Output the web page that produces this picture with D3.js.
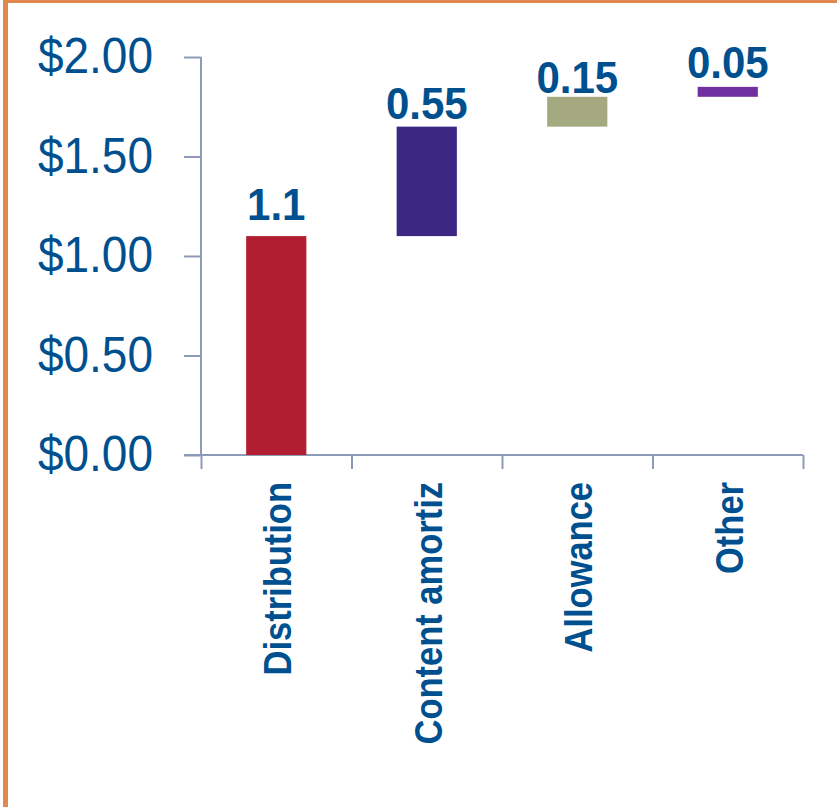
<!DOCTYPE html>
<html>
<head>
<meta charset="utf-8">
<script src="https://cdn.jsdelivr.net/npm/d3@7"></script>
<style>
  body { margin: 0; background: #fff; }
  svg { display: block; font-family: "Liberation Sans", Arial, sans-serif; }
</style>
</head>
<body>
<div id="chart"></div>
<script>
// chart data
var categories = ['Distribution', 'Content amortiz', 'Allowance', 'Other'];
var values = [1.1, 0.55, 0.15, 0.05];
var valueLabels = ['1.1', '0.55', '0.15', '0.05'];
var barColors = ['#b21e31', '#3c2783', '#a4a97f', '#7030a0'];
var yTicks = [0, 0.5, 1, 1.5, 2];
var yTickLabels = ['$0.00', '$0.50', '$1.00', '$1.50', '$2.00'];

// label nudges (px above bar top)
var labelGap = [16, 8, 4, 9];

var width = 837, height = 807;
var textColor = '#00508f', axisColor = '#8e9bb8';

var svg = d3.select('#chart').append('svg')
    .attr('width', width)
    .attr('height', height);

// orange frame (top + left)
svg.append('rect').attr('x', 3).attr('y', 0).attr('width', width - 3).attr('height', 3).attr('fill', '#e0884e');
svg.append('rect').attr('x', 3).attr('y', 0).attr('width', 5).attr('height', height).attr('fill', '#e0884e');

// waterfall: each bar starts where the previous ended
var start = 0;
var bars = values.map(function(v, i) {
  var b = {cat: categories[i], y0: start, y1: start + v, label: valueLabels[i], color: barColors[i], gap: labelGap[i]};
  start += v;
  return b;
});

var y = d3.scaleLinear().domain([0, 2]).range([455, 57]);
var x = d3.scaleBand().domain(categories).range([201, 803]).padding(0);
var xEdge = d3.scaleLinear().domain([0, categories.length]).range(x.range());
var barW = x.bandwidth() * 0.4;

// y axis
var yAxis = d3.axisLeft(y)
    .tickValues(yTicks)
    .tickSize(17)
    .tickFormat('');
var gY = svg.append('g').attr('transform', 'translate(201,0)').call(yAxis);
gY.select('.domain').remove();
gY.append('line').attr('y1', y(2)).attr('y2', y(0));
gY.selectAll('line').attr('stroke', axisColor).attr('stroke-width', 2);

// y tick labels (slightly tall glyphs like the original)
svg.append('g').selectAll('text')
    .data(yTicks)
    .enter().append('text')
      .attr('transform', function(d) { return 'translate(153,' + (y(d) + 16) + ') scale(1,1.07)'; })
      .attr('text-anchor', 'end')
      .attr('font-size', 46)
      .attr('fill', textColor)
      .text(function(d, i) { return yTickLabels[i]; });

// x axis, ticks on band edges
var xAxis = d3.axisBottom(xEdge)
    .tickValues(d3.range(categories.length + 1))
    .tickSize(14)
    .tickFormat('');
var gX = svg.append('g').attr('transform', 'translate(0,455)').call(xAxis);
gX.select('.domain').remove();
gX.append('line').attr('x1', 184).attr('x2', xEdge(categories.length));
gX.selectAll('line').attr('stroke', axisColor).attr('stroke-width', 2);

// category labels, rotated
svg.append('g').selectAll('text')
    .data(categories)
    .enter().append('text')
      .attr('transform', function(d) {
        return 'translate(' + (x(d) + x.bandwidth() / 2 + 15) + ',482) rotate(-90) scale(1,1.12)';
      })
      .attr('text-anchor', 'end')
      .attr('font-size', 34.5)
      .attr('font-weight', 'bold')
      .attr('fill', textColor)
      .text(function(d) { return d; });

// bars
svg.append('g').selectAll('rect')
    .data(bars)
    .enter().append('rect')
      .attr('x', function(d) { return x(d.cat) + (x.bandwidth() - barW) / 2; })
      .attr('y', function(d) { return y(d.y1); })
      .attr('width', barW)
      .attr('height', function(d) { return y(d.y0) - y(d.y1); })
      .attr('fill', function(d) { return d.color; });

// value labels
svg.append('g').selectAll('text')
    .data(bars)
    .enter().append('text')
      .attr('transform', function(d) {
        return 'translate(' + (x(d.cat) + x.bandwidth() / 2) + ',' + (y(d.y1) - d.gap) + ') scale(1,1.07)';
      })
      .attr('text-anchor', 'middle')
      .attr('font-size', 42)
      .attr('font-weight', 'bold')
      .attr('fill', textColor)
      .text(function(d) { return d.label; });
</script>
</body>
</html>
